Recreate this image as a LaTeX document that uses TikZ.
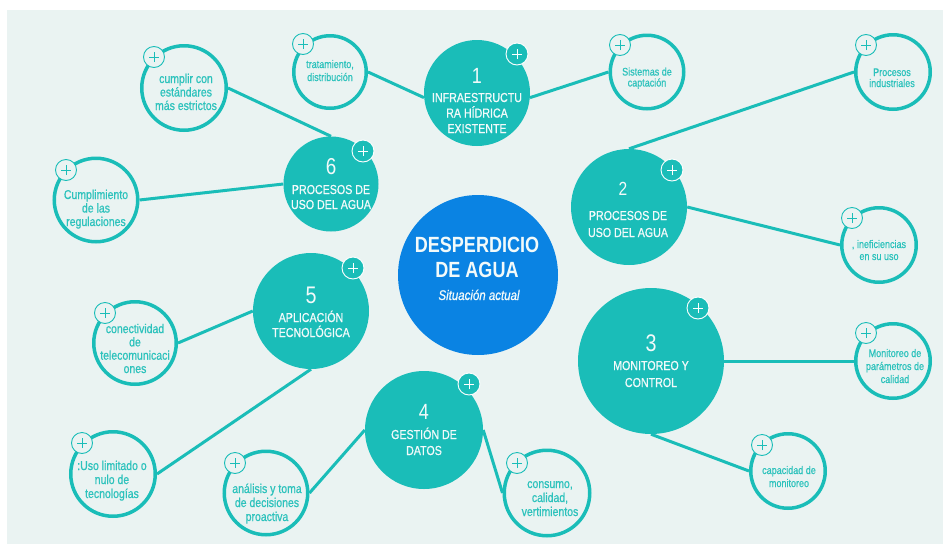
\documentclass[tikz,border=0pt]{standalone}
\usepackage{fontspec}
\setmainfont{Liberation Sans}[FakeStretch=0.82]
\newfontfamily\medfont{Liberation Sans}[FakeStretch=0.82, FakeBold=0.7]
\definecolor{tealc}{HTML}{1ABDB8}
\definecolor{bluec}{HTML}{0A83E3}
\definecolor{bgc}{HTML}{EAF3F2}
\definecolor{txtc}{HTML}{2CC2BC}
\definecolor{wtxt}{HTML}{F2FAFA}
\begin{document}
\begin{tikzpicture}[x=1pt,y=-1pt,
  big/.style={circle, fill=tealc, draw=none, inner sep=0pt, minimum size=#1},
  central/.style={circle, fill=bluec, draw=none, inner sep=0pt, minimum size=#1},
  small/.style={circle, fill=bgc, draw=tealc, line width=3.5pt, inner sep=0pt, minimum size=#1},
  conn/.style={draw=tealc, line width=3pt},
  numtxt/.style={text=wtxt, inner sep=0pt, font=\fontsize{#1}{#1}\selectfont},
  ttl/.style={text=wtxt, inner sep=0pt, align=center, anchor=base, font=\medfont\fontsize{13}{#1}\selectfont},
  stxt/.style={text=txtc, inner sep=0pt, align=center, anchor=base, font=\medfont\fontsize{11}{#1}\selectfont},
  ltxt/.style={text=txtc, inner sep=0pt, align=center, anchor=base, font=\medfont\fontsize{12.8}{#1}\selectfont},
  badgeT/.style={circle, minimum size=22pt, inner sep=0pt, fill=tealc, draw=white, line width=0.9pt,
    path picture={\draw[white, line width=1pt]
      ([xshift=-5pt]path picture bounding box.center) -- ([xshift=5pt]path picture bounding box.center)
      ([yshift=-5pt]path picture bounding box.center) -- ([yshift=5pt]path picture bounding box.center);}},
  badgeS/.style={circle, minimum size=21pt, inner sep=0pt, fill=bgc, draw=tealc, line width=0.9pt,
    path picture={\draw[tealc, line width=1pt]
      ([xshift=-5pt]path picture bounding box.center) -- ([xshift=5pt]path picture bounding box.center)
      ([yshift=-5pt]path picture bounding box.center) -- ([yshift=5pt]path picture bounding box.center);}}
]
\useasboundingbox (0,0) rectangle (943,544);
\fill[bgc] (7,10) rectangle (943,544);

% central
\node[central=160pt] (c) at (478,275) {};
\node[text=wtxt, inner sep=0pt, align=center, anchor=base, font=\bfseries\fontsize{22}{25}\selectfont] (ct) at (477,277) {DESPERDICIO\\DE AGUA};
\node[text=wtxt, inner sep=0pt, anchor=base, font=\medfont\itshape\fontsize{14}{16}\selectfont] (cs) at (479,300) {Situación actual};

% main nodes
\node[big=106pt] (n1) at (477,93) {};
\node[big=95pt] (n6) at (331,184) {};
\node[big=116pt] (n2) at (629,207) {};
\node[big=146pt] (n3) at (651,361) {};
\node[big=116pt] (n5) at (311,311) {};
\node[big=118pt] (n4) at (424,430) {};

% small nodes
\node[small=72.5pt] (sa) at (330,72) {};
\node[small=84.5pt] (sb) at (184,88) {};
\node[small=83.5pt] (sc) at (96,200) {};
\node[small=73.5pt] (sd) at (647,72) {};
\node[small=74.5pt] (se) at (893,72) {};
\node[small=74.5pt] (sf) at (879,245) {};
\node[small=74.5pt] (sg) at (893,361) {};
\node[small=74.5pt] (sh) at (788,471) {};
\node[small=85.5pt] (si) at (547,493) {};
\node[small=83.5pt] (sj) at (266,493) {};
\node[small=84.5pt] (sk) at (113,474) {};
\node[small=82.5pt] (sl) at (135,343) {};

% connectors
\draw[conn] (sa.east) -- (n1.185);
\draw[conn] (n1.-5) -- (sd.west);
\draw[conn] (sb.east) -- (n6.north);
\draw[conn] (sc.east) -- (n6.west);
\draw[conn] (n2.north) -- (se.west);
\draw[conn] (n2.east) -- (sf.west);
\draw[conn] (n3.east) -- (sg.west);
\draw[conn] (n3.south) -- (sh.west);
\draw[conn] (n4.east) -- (si.west);
\draw[conn] (n4.west) -- (sj.east);
\draw[conn] (n5.south) -- (sk.east);
\draw[conn] (n5.west) -- (sl.east);

% main texts (anchor base = last line)
\node[numtxt=22] (t1n) at (477,75.5) {1};
\node[ttl=15.5] (t1) at (477,133) {INFRAESTRUCTU\\RA HÍDRICA\\EXISTENTE};
\node[numtxt=23] (t6n) at (331,167) {6};
\node[ttl=15] (t6) at (331,209) {PROCESOS DE\\USO DEL AGUA};
\node[numtxt=19] (t2n) at (623,189) {2};
\node[ttl=17] (t2) at (628,237) {PROCESOS DE\\USO DEL AGUA};
\node[numtxt=24] (t3n) at (651,343) {3};
\node[ttl=17] (t3) at (651,387) {MONITOREO Y\\CONTROL};
\node[numtxt=24] (t5n) at (311,295) {5};
\node[ttl=15] (t5) at (311,337) {APLICACIÓN\\TECNOLÓGICA};
\node[numtxt=22] (t4n) at (424,412) {4};
\node[ttl=16] (t4) at (424,455) {GESTIÓN DE\\DATOS};

% small texts (anchor base = last line)
\node[stxt=13] (ta) at (330,81) {tratamiento,\\distribución};
\node[ltxt=13.5] (tb) at (186,110) {cumplir con\\estándares\\más estrictos};
\node[ltxt=13.5] (tc) at (96,226) {Cumplimiento\\de las\\regulaciones};
\node[stxt=11] (td) at (647,86.5) {Sistemas de\\captación};
\node[stxt=11] (te) at (892,87) {Procesos\\industriales};
\node[stxt=12] (tf) at (879,260) {, ineficiencias\\en su uso};
\node[stxt=13] (tg) at (895,383) {Monitoreo de\\parámetros de\\calidad};
\node[stxt=13] (th) at (789,487) {capacidad de\\monitoreo};
\node[ltxt=14] (ti) at (550,516) {consumo,\\calidad,\\vertimientos};
\node[ltxt=14] (tj) at (267,521) {análisis y toma\\de decisiones\\proactiva};
\node[ltxt=14] (tk) at (112,498) {:Uso limitado o\\nulo de\\tecnologías};
\node[ltxt=13.3] (tl) at (135,373) {conectividad\\de\\telecomunicaci\\ones};

% badges
\node[badgeT] (b1) at (517,54) {};
\node[badgeT] (b6) at (363,151) {};
\node[badgeT] (b2) at (672,170) {};
\node[badgeT] (b5) at (353,268) {};
\node[badgeT] (b4) at (469,384) {};
\node[badgeT] (b3) at (698,308) {};
\node[badgeS] (ba) at (303,44) {};
\node[badgeS] (bb) at (154,57) {};
\node[badgeS] (bc) at (66,170) {};
\node[badgeS] (bd) at (620,45) {};
\node[badgeS] (be) at (866,45) {};
\node[badgeS] (bf) at (852,218) {};
\node[badgeS] (bg) at (866,333) {};
\node[badgeS] (bh) at (762,445) {};
\node[badgeS] (bi) at (517,463) {};
\node[badgeS] (bj) at (235,463) {};
\node[badgeS] (bk) at (82,443) {};
\node[badgeS] (bl) at (105,313) {};
\end{tikzpicture}
\end{document}
